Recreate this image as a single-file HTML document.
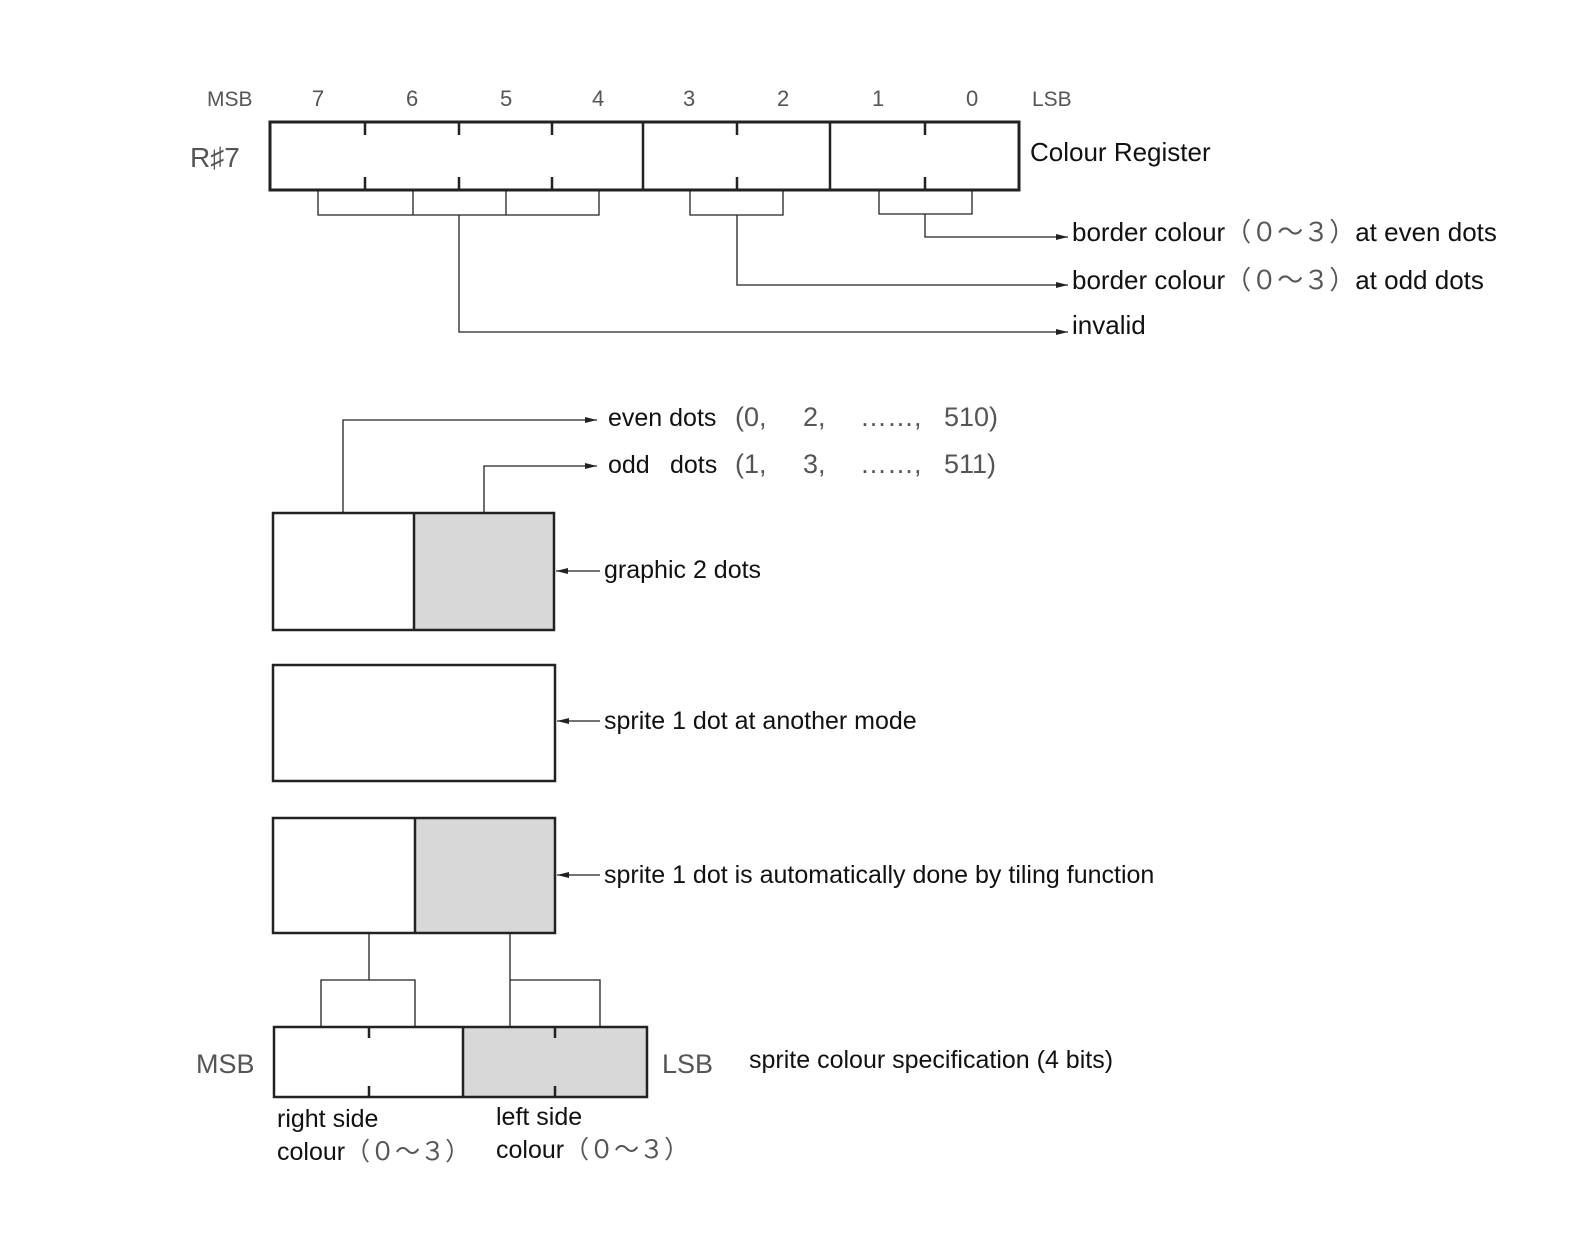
<!DOCTYPE html>
<html><head><meta charset="utf-8"><style>
html,body{margin:0;padding:0;background:#fff;overflow:hidden;width:1582px;height:1233px;}
svg{display:block;}
text{font-family:"Liberation Sans","Noto Sans CJK JP",sans-serif;fill:#111;}
.g{fill:#555;}
</style></head><body>
<svg width="1582" height="1233" viewBox="0 0 1582 1233" xmlns="http://www.w3.org/2000/svg">
<defs>
<marker id="a" markerWidth="12" markerHeight="8" refX="12" refY="4" orient="auto" markerUnits="userSpaceOnUse"><path d="M0,1 L12,4 L0,7 z" fill="#222"/></marker>
</defs>
<g font-size="22" fill="#333">
<text x="207" y="106" font-size="21" class="g">MSB</text>
<text x="312" y="106" class="g">7</text><text x="406" y="106" class="g">6</text><text x="500" y="106" class="g">5</text><text x="592" y="106" class="g">4</text>
<text x="683" y="106" class="g">3</text><text x="777" y="106" class="g">2</text><text x="872" y="106" class="g">1</text><text x="966" y="106" class="g">0</text>
<text x="1032" y="106" font-size="21" class="g">LSB</text>
</g>
<text x="190" y="167" font-size="28" class="g">R♯7</text>
<g stroke="#222" fill="none">
<rect x="270" y="122" width="749" height="68" stroke-width="3"/>
<line x1="643" y1="122" x2="643" y2="190" stroke-width="2.5"/>
<line x1="830" y1="122" x2="830" y2="190" stroke-width="2.5"/>
<g stroke-width="2.5">
<line x1="365" y1="122" x2="365" y2="135"/><line x1="365" y1="177" x2="365" y2="190"/>
<line x1="459" y1="122" x2="459" y2="135"/><line x1="459" y1="177" x2="459" y2="190"/>
<line x1="552" y1="122" x2="552" y2="135"/><line x1="552" y1="177" x2="552" y2="190"/>
<line x1="737" y1="122" x2="737" y2="135"/><line x1="737" y1="177" x2="737" y2="190"/>
<line x1="925" y1="122" x2="925" y2="135"/><line x1="925" y1="177" x2="925" y2="190"/>
</g>
<g stroke-width="1.3">
<path d="M318,190 V215 H599 V190 M413,190 V215 M506,190 V215"/>
<path d="M690,190 V215 H783 V190"/>
<path d="M879,190 V214 H972 V190"/>
<path d="M925,214 V237 H1068" marker-end="url(#a)"/>
<path d="M737,215 V285 H1068" marker-end="url(#a)"/>
<path d="M459,215 V332 H1068" marker-end="url(#a)"/>
</g>
</g>
<text x="1030" y="161" font-size="26">Colour Register</text>
<g font-size="26">
<text x="1072" y="241">border colour<tspan class="g">（０～３）</tspan>at even dots</text>
<text x="1072" y="289">border colour<tspan class="g">（０～３）</tspan>at odd dots</text>
<text x="1072" y="334">invalid</text>
</g>

<rect x="414" y="513" width="140" height="117" fill="#d8d8d8"/>
<rect x="415" y="818" width="140" height="115" fill="#d8d8d8"/>
<rect x="463" y="1027" width="184" height="70" fill="#d8d8d8"/>
<g stroke="#222" fill="none">
<rect x="273" y="513" width="281" height="117" stroke-width="2.5"/>
<line x1="414" y1="513" x2="414" y2="630" stroke-width="2.5"/>
<rect x="273" y="665" width="282" height="116" stroke-width="2.5"/>
<rect x="273" y="818" width="282" height="115" stroke-width="2.5"/>
<line x1="415" y1="818" x2="415" y2="933" stroke-width="2.5"/>
<rect x="274" y="1027" width="373" height="70" stroke-width="2.5"/>
<line x1="463" y1="1027" x2="463" y2="1097" stroke-width="2.5"/>
<g stroke-width="2.5">
<line x1="369" y1="1027" x2="369" y2="1038"/><line x1="369" y1="1086" x2="369" y2="1097"/>
<line x1="555" y1="1027" x2="555" y2="1038"/><line x1="555" y1="1086" x2="555" y2="1097"/>
</g>
<g stroke-width="1.3">
<path d="M343,513 V420 H597" marker-end="url(#a)"/>
<path d="M484,513 V466 H597" marker-end="url(#a)"/>
<path d="M600,571 H556" marker-end="url(#a)"/>
<path d="M600,721 H557" marker-end="url(#a)"/>
<path d="M600,875 H557" marker-end="url(#a)"/>
<path d="M369,933 V980 M321,1027 V980 H415 V1027"/>
<path d="M510,933 V1027 M510,980 H600 V1027"/>
</g>
</g>
<g font-size="25">
<text x="608" y="426">even dots</text>
<text x="608" y="473">odd</text><text x="670" y="473">dots</text>
<g class="g" font-size="27">
<text x="735" y="426" class="g">(0,</text><text x="803" y="426" class="g">2,</text><text x="860" y="426" class="g">……,</text><text x="944" y="426" class="g">510)</text>
<text x="735" y="473" class="g">(1,</text><text x="803" y="473" class="g">3,</text><text x="860" y="473" class="g">……,</text><text x="944" y="473" class="g">511)</text>
</g>
<text x="604" y="578">graphic 2 dots</text>
<text x="604" y="729">sprite 1 dot at another mode</text>
<text x="604" y="883">sprite 1 dot is automatically done by tiling function</text>
<text x="749" y="1068">sprite colour specification (4 bits)</text>
<text x="277" y="1127">right side</text>
<text x="277" y="1160">colour<tspan class="g">（０～３）</tspan></text>
<text x="496" y="1125">left side</text>
<text x="496" y="1158">colour<tspan class="g">（０～３）</tspan></text>
</g>
<text x="196" y="1073" font-size="27" class="g">MSB</text>
<text x="662" y="1073" font-size="27" class="g">LSB</text>
</svg>
</body></html>
